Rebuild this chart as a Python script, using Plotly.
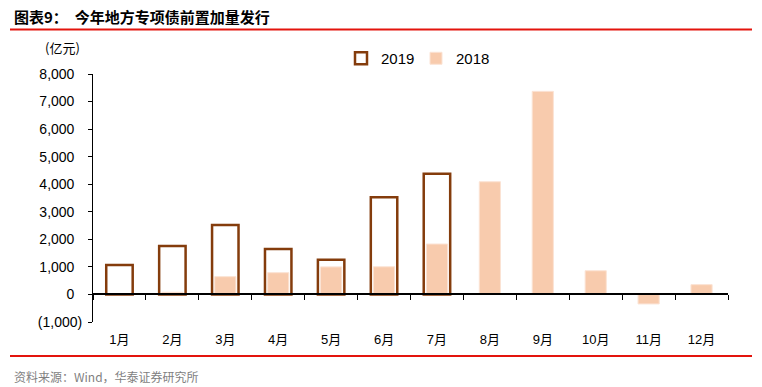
import plotly.graph_objects as go

months = ["1月", "2月", "3月", "4月", "5月", "6月", "7月", "8月", "9月", "10月", "11月", "12月"]
v2019 = [1070, 1760, 2520, 1650, 1260, 3530, 4380, None, None, None, None, None]
v2018 = [0, 80, 645, 790, 1000, 1005, 1830, 4090, 7370, 860, -345, 355]
ytick_vals = [-1000, 0, 1000, 2000, 3000, 4000, 5000, 6000, 7000, 8000]
ytick_text = ["(1,000)", "0", "1,000", "2,000", "3,000", "4,000", "5,000", "6,000", "7,000", "8,000"]
y_range = [-1000, 8000]

title_text = "图表9：  今年地方专项债前置加量发行"
unit_text = "(亿元)"
source_text = "资料来源：Wind，华泰证券研究所"

FONT = "Arial, Liberation Sans, Noto Sans CJK SC, sans-serif"
CJK = "Noto Sans CJK SC, sans-serif"

# accounting-style alignment: positive labels leave room for the closing parenthesis
ytick_disp = [t if t.startswith("(") else t + "\u00a0\u00a0" for t in ytick_text]

fig = go.Figure()
fig.add_trace(go.Bar(
    name="2018", x=months, y=v2018, width=0.4,
    marker=dict(color="#F8CBAD", line=dict(color="#FBE3D4", width=1)),
))
fig.add_trace(go.Bar(
    name="2019", x=months, y=v2019, width=0.5,
    marker=dict(color="rgba(0,0,0,0)", line=dict(color="#843C0C", width=2.5)),
))

zero_pos = (0 - y_range[0]) / (y_range[1] - y_range[0])

fig.update_layout(
    width=762, height=387,
    margin=dict(l=93, r=34, t=73.5, b=65, autoexpand=False),
    paper_bgcolor="white", plot_bgcolor="white",
    barmode="overlay",
    showlegend=True,
    legend=dict(orientation="h", x=(341 - 93) / 635, xanchor="left",
                y=1 + (73.5 - 58) / 248.5, yanchor="middle",
                font=dict(family=FONT, size=15, color="#000"),
                traceorder="reversed", entrywidth=30, entrywidthmode="pixels",
                itemwidth=30, bgcolor="rgba(0,0,0,0)"),
    xaxis=dict(type="category", categoryorder="array", categoryarray=months,
               range=[-0.5, 11.5], anchor="free", position=zero_pos,
               showline=True, linecolor="#000", linewidth=1.5,
               ticks="outside", tickson="boundaries", ticklen=5, tickcolor="#000",
               ticklabelstandoff=33,
               tickfont=dict(family=FONT, size=13, color="#000"),
               showgrid=False, zeroline=False),
    yaxis=dict(range=y_range, tickvals=ytick_vals, ticktext=ytick_disp,
               showline=True, linecolor="#000", linewidth=1,
               ticks="outside", ticklen=4, tickcolor="#000",
               ticklabelstandoff=3,
               tickfont=dict(family=FONT, size=14, color="#000"),
               showgrid=False, zeroline=False),
    font=dict(family=FONT),
)

fig.add_annotation(text="<b>" + title_text + "</b>", xref="paper", yref="paper",
                   x=(12 - 93) / 635, y=1 + (73.5 - 16) / 248.5, xanchor="left", yanchor="middle",
                   showarrow=False, font=dict(family=CJK, size=15, color="#000"))
fig.add_annotation(text=unit_text, xref="paper", yref="paper",
                   x=(62 - 93) / 635, y=1 + (73.5 - 47) / 248.5, xanchor="center", yanchor="middle",
                   showarrow=False, font=dict(family=CJK, size=13, color="#000"))
fig.add_annotation(text=source_text, xref="paper", yref="paper",
                   x=(12 - 93) / 635, y=-(377 - 322) / 248.5, xanchor="left", yanchor="middle",
                   showarrow=False, font=dict(family=CJK, size=12, color="#7F7F7F"))

for ypx in (29, 356):
    yp = 1 - (ypx - 73.5) / 248.5
    fig.add_shape(type="line", xref="paper", yref="paper",
                  x0=(10 - 93) / 635, x1=(752 - 93) / 635, y0=yp, y1=yp,
                  line=dict(color="#E3140D", width=2))

fig.write_html("out.html", config={"displayModeBar": False},
               post_script="document.body.style.margin='0';")
